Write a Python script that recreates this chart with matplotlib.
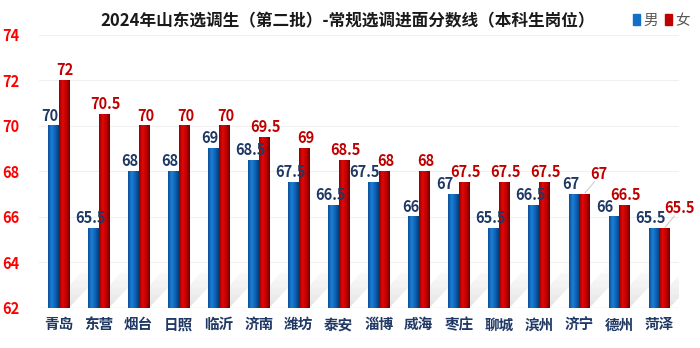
import numpy as np
import matplotlib.pyplot as plt
from matplotlib.colors import LinearSegmentedColormap
from matplotlib.patches import Polygon, Patch

plt.rcParams['font.family'] = ['Noto Sans CJK SC', 'DejaVu Sans']

cities = ['青岛', '东营', '烟台', '日照', '临沂', '济南', '潍坊', '泰安',
          '淄博', '威海', '枣庄', '聊城', '滨州', '济宁', '德州', '菏泽']
male = [70, 65.5, 68, 68, 69, 68.5, 67.5, 66.5, 67.5, 66, 67, 65.5, 66.5, 67, 66, 65.5]
female = [72, 70.5, 70, 70, 70, 69.5, 69, 68.5, 68, 68, 67.5, 67.5, 67.5, 67, 66.5, 65.5]

fig = plt.figure(figsize=(7, 3.48), dpi=100)
ax = fig.add_axes([0.055, 0.115, 0.915, 0.785])

x = np.arange(len(cities))
w = 0.26
base = 62

# cylinder-like gradients
blue_cm = LinearSegmentedColormap.from_list('b', ['#0a4f96', '#1c7fd6', '#0e62b4', '#073f7a'])
red_cm = LinearSegmentedColormap.from_list('r', ['#9a0000', '#e00808', '#c00000', '#6e0000'])
grad = np.linspace(0, 1, 64).reshape(1, -1)

ax.set_xlim(-0.5, len(cities) - 0.5)
ax.set_ylim(62, 74)

# floor shadows: a faded diagonal streak behind each bar
for xi in x:
    for off in (-w, 0):
        for k, a in enumerate(np.linspace(0.45, 0.05, 6)):
            t0, t1 = k / 6, (k + 1) / 6
            dx, dy = 0.95, 1.8
            poly = Polygon([(xi + off + dx * t0, base + dy * t0),
                            (xi + off + w + dx * t0, base + dy * t0),
                            (xi + off + w + dx * t1, base + dy * t1),
                            (xi + off + dx * t1, base + dy * t1)], closed=True,
                           facecolor='#c8c8c8', edgecolor='none', alpha=a, zorder=1)
            ax.add_patch(poly)

bm = ax.bar(x - w / 2, np.array(male) - base, w, bottom=base, color='#1070c8', zorder=2)
bf = ax.bar(x + w / 2, np.array(female) - base, w, bottom=base, color='#c00000', zorder=2)
for bars, cm in ((bm, blue_cm), (bf, red_cm)):
    for p in bars:
        x0, y0 = p.get_x(), p.get_y()
        ax.imshow(grad, cmap=cm, aspect='auto', zorder=3,
                  extent=(x0, x0 + p.get_width(), y0, y0 + p.get_height()))

for xi, m, f in zip(x, male, female):
    # push the male label further left when the two tops are close
    mx = xi - w / 2 - 0.08 - (0.15 if 0 < f - m <= 0.5 else 0)
    ax.text(mx, m + 0.1, f'{m:g}', ha='center', va='bottom',
            fontsize=10.5, fontweight='bold', color='#1f3864', zorder=4)
    if m == f:
        # same height: female label pushed up-right with a leader line
        tx, ty = xi + w / 2 + 0.38, f + 0.55
        ax.plot([xi + w / 2 + 0.02, tx - 0.12], [f + 0.05, ty], color='#bfbfbf', lw=0.6, zorder=4)
        ax.text(tx, ty, f'{f:g}', ha='center', va='bottom',
                fontsize=10.5, fontweight='bold', color='#c00000', zorder=4)
    else:
        ax.text(xi + w / 2 + 0.04, f + 0.1, f'{f:g}', ha='center', va='bottom',
                fontsize=10.5, fontweight='bold', color='#c00000', zorder=4)

ax.set_yticks(np.arange(62, 75, 2))
ax.tick_params(axis='y', length=0, labelcolor='#ff0000', labelsize=10.5, pad=14)
ax.tick_params(axis='x', length=0, labelcolor='#1f3864', labelsize=10.5, pad=6)
ax.set_xticks(x)
ax.set_xticklabels(cities, fontweight='bold')
for lab in ax.get_yticklabels():
    lab.set_fontweight('bold')
ax.grid(axis='y', color='#f0f0f0', lw=0.8, zorder=0)
for s in ax.spines.values():
    s.set_visible(False)
ax.axhline(62, color='#e6e6e6', lw=1, zorder=1)

fig.text(0.497, 0.94, '2024年山东选调生（第二批）-常规选调进面分数线（本科生岗位）',
         ha='center', va='center', fontsize=12, fontweight='bold', color='#1a1a1a')
fig.legend(handles=[Patch(color='#1070c8', label='男'), Patch(color='#c00000', label='女')],
           loc='center', bbox_to_anchor=(0.945, 0.94), ncol=2, frameon=False,
           handlelength=0.5, handleheight=0.8, handletextpad=0.2, columnspacing=0.5,
           fontsize=10.5, labelcolor='#595959')

fig.savefig('out.png', dpi=100)
